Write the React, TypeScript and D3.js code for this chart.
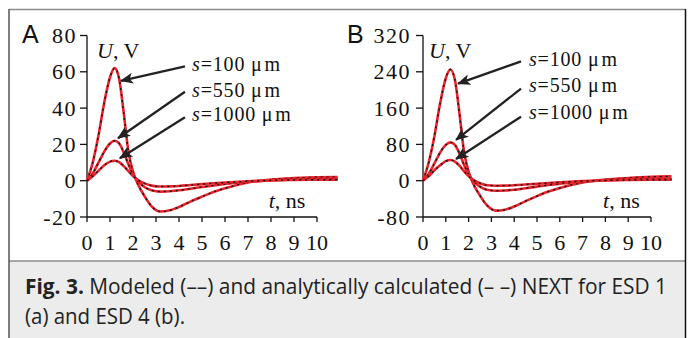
import * as d3 from "d3";

const tValues = [0, 0.25, 0.5, 0.75, 1.0, 1.2, 1.4, 1.6, 1.8, 2.0, 2.2, 2.5, 2.8, 3.2, 3.6, 4.0, 4.5, 5.0, 5.5, 6.0, 7.0, 8.0, 9.0, 10.0, 10.9];

const s100A = [0, 10, 25, 43, 57, 62, 56, 37, 16, 5, -1.5, -8.5, -14, -17, -16.3, -14.5, -11.5, -8.8, -6.2, -4.2, -1, 0.6, 1.4, 1.9, 2];
const s550A = [0, 4, 10, 16, 20.5, 22, 20.5, 15.5, 9, 3.5, 0, -3.5, -5.3, -6, -5.8, -5.3, -4.4, -3.5, -2.6, -1.8, -0.6, 0.2, 0.7, 1, 1];
const s1000A = [0, 2.5, 5.5, 8.5, 10.5, 11, 10.2, 8, 5.3, 2.5, 0.5, -1.5, -2.7, -3.2, -3.1, -2.9, -2.4, -1.9, -1.4, -1, -0.3, 0.2, 0.4, 0.5, 0.5];

const s100B = [0, 40, 98, 170, 226, 245, 222, 148, 64, 20, -6, -33, -54, -66, -64, -57, -45, -34, -24, -16, -4, 2.5, 6, 8.5, 9.5];
const s550B = [0, 15, 38, 62, 79, 84.5, 79, 60, 35, 14, 0, -13, -20, -22, -21.5, -20, -16.5, -13, -9.5, -6.5, -2, 1, 3, 4, 4];
const s1000B = [0, 10, 23, 34, 43, 45.5, 42, 33, 21, 10, 2, -5.5, -10, -11, -10.8, -10, -8.3, -6.6, -5, -3.5, -1, 0.6, 1.5, 2, 2];

const xTicks = [0, 1, 2, 3, 4, 5, 6, 7, 8, 9, 10];
const yTicksA = [-20, 0, 20, 40, 60, 80];
const yTicksB = [-80, 0, 80, 160, 240, 320];
const gapLabels = ["100", "550", "1000"];

// arrow annotations in data units: [tail t, tail U, head t, head U]
const arrowsA = [[4.26, 63, 1.48, 55], [4.26, 49, 1.35, 23.4], [4.26, 35, 1.43, 12.4]];
const arrowsB = [[4.3, 263, 1.54, 214], [4.3, 203, 1.45, 90], [4.3, 141, 1.45, 48]];
const labelPosA = [[4.57, 60.3], [4.57, 46], [4.57, 32.8]];
const labelPosB = [[4.65, 252], [4.65, 194.5], [4.65, 137]];

const serif = "'Liberation Serif', 'Times New Roman', serif";

type PanelProps = {
  id: string;
  letter: string;
  letterX: number;
  left: number;
  right: number;
  labelGap: number;
  yTicks: number[];
  series: number[][];
  arrows: number[][];
  labelPos: number[][];
  labelShift: number;
};

function Panel({ id, letter, letterX, left, right, labelGap, yTicks, series, arrows, labelPos, labelShift }: PanelProps) {
  const top = 35.5;
  const bottom = 217;
  const x = d3.scaleLinear([0, 10], [left, right]);
  const y = d3.scaleLinear([yTicks[0], yTicks[yTicks.length - 1]], [bottom, top]);
  const line = d3.line<number>().x((_, i) => x(tValues[i])).y(v => y(v)).curve(d3.curveMonotoneX);
  const y0 = yTicks[0];
  const yMax = yTicks[yTicks.length - 1];

  return (
    <g>
      <defs>
        <marker id={`arr-${id}`} viewBox="0 0 12 10" refX="11" refY="5" markerWidth="14" markerHeight="11" markerUnits="userSpaceOnUse" orient="auto">
          <path d="M0,0 L12,5 L0,10 L3,5 Z" fill="#222" />
        </marker>
      </defs>
      <text x={letterX} y={43} fontFamily="'Liberation Sans', Arial, sans-serif" fontSize={25} fill="#111">{letter}</text>
      <line x1={x(0)} y1={y(y0)} x2={x(0)} y2={y(yMax)} stroke="#111" strokeWidth={1.3} />
      <line x1={x(0)} y1={y(y0)} x2={x(10)} y2={y(y0)} stroke="#111" strokeWidth={1.3} />
      {yTicks.map(t => (
        <g key={t}>
          <line x1={x(0) - 7} x2={x(0)} y1={y(t)} y2={y(t)} stroke="#111" strokeWidth={1.3} />
          <text x={x(0) - labelGap} y={y(t) + 7.5} textAnchor="end" fontFamily={serif} fontSize={22} letterSpacing={1.5} fill="#111">{t}</text>
        </g>
      ))}
      {xTicks.map(t => (
        <g key={t}>
          <line x1={x(t)} x2={x(t)} y1={y(y0)} y2={y(y0) + 5} stroke="#111" strokeWidth={1.3} />
          <text x={x(t)} y={250} textAnchor="middle" fontFamily={serif} fontSize={22} fill="#111">{t}</text>
        </g>
      ))}
      {series.map((s, i) => (
        <g key={i}>
          <path d={line(s) ?? undefined} fill="none" stroke="#e8232b" strokeWidth={2.6} />
          <path d={line(s) ?? undefined} fill="none" stroke="#111" strokeWidth={1.4} strokeDasharray="2,4" />
        </g>
      ))}
      {arrows.map((a, i) => (
        <line key={i} x1={x(a[0])} y1={y(a[1])} x2={x(a[2])} y2={y(a[3])} stroke="#222" strokeWidth={2.3} markerEnd={`url(#arr-${id})`} />
      ))}
      {labelPos.map((p, i) => (
        <text key={i} x={x(p[0])} y={y(p[1])} fontFamily={serif} fontSize={20} letterSpacing={0.8} fill="#111">
          <tspan fontStyle="italic">s</tspan>={gapLabels[i]} μ<tspan dx={2}>m</tspan>
        </text>
      ))}
      <text x={x(0) + labelShift} y={58} fontFamily={serif} fontSize={22} fill="#111">
        <tspan fontStyle="italic">U</tspan>, V
      </text>
      <text x={x(7.9)} y={208} fontFamily={serif} fontSize={22} fill="#111">
        <tspan fontStyle="italic">t</tspan>, ns
      </text>
    </g>
  );
}

export default function App() {
  return (
    <svg width={692} height={338} viewBox="0 0 692 338" style={{ position: "absolute", left: 0, top: 0 }}>
      <rect x={0} y={0} width={692} height={338} fill="#fff" />
      <rect x={9} y={261} width={677} height={77} fill="#ececec" />
      <line x1={9} y1={9.5} x2={686} y2={9.5} stroke="#8c8c8c" strokeWidth={1.5} />
      <line x1={9} y1={261} x2={686} y2={261} stroke="#8c8c8c" strokeWidth={1.5} />
      <line x1={9} y1={9} x2={9} y2={338} stroke="#555" strokeWidth={1.5} />
      <line x1={685.5} y1={9} x2={685.5} y2={338} stroke="#111" strokeWidth={1.5} />
      <Panel id="a" letter="A" letterX={22} left={87} right={317} labelGap={10} yTicks={yTicksA} series={[s100A, s550A, s1000A]} arrows={arrowsA} labelPos={labelPosA} labelShift={10} />
      <Panel id="b" letter="B" letterX={347} left={423} right={651} labelGap={12} yTicks={yTicksB} series={[s100B, s550B, s1000B]} arrows={arrowsB} labelPos={labelPosB} labelShift={6} />
      <text x={25} y={294} fontFamily="'Open Sans', 'Noto Sans', sans-serif" fontSize={21} fill="#222" textLength={642} lengthAdjust="spacingAndGlyphs">
        <tspan fontWeight="bold">Fig. 3.</tspan>{"  "}Modeled (––) and analytically calculated (– –) NEXT for ESD 1
      </text>
      <text x={25} y={324} fontFamily="'Open Sans', 'Noto Sans', sans-serif" fontSize={21} fill="#222" textLength={160} lengthAdjust="spacingAndGlyphs">
        (a) and ESD 4 (b).
      </text>
    </svg>
  );
}
